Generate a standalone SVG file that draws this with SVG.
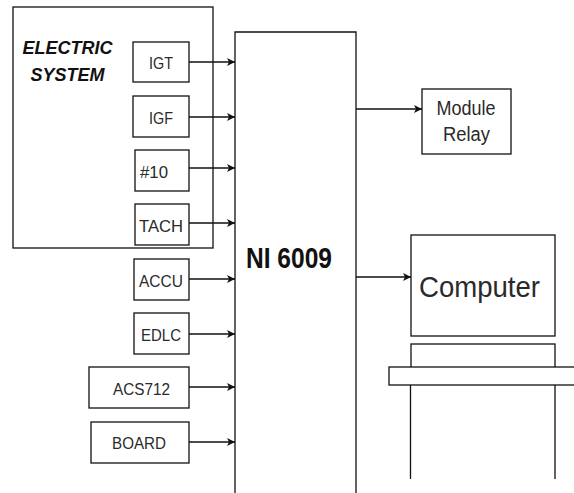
<svg xmlns="http://www.w3.org/2000/svg" width="574" height="493" viewBox="0 0 574 493">
<defs>
<style>
.box{fill:#fff;stroke:#111;stroke-width:1.3}
.ln{fill:none;stroke:#111;stroke-width:1.3}
.lbl{font-family:"Liberation Sans Narrow","Liberation Sans",Arial,sans-serif;font-size:17px;fill:#2a2a2a;text-anchor:middle}
.big{font-family:"Liberation Sans Narrow","Liberation Sans",Arial,sans-serif;font-size:29px;font-weight:bold;fill:#111;text-anchor:middle}
.title{font-family:"Liberation Sans",Arial,sans-serif;font-size:18px;font-weight:bold;font-style:italic;fill:#111;text-anchor:middle}
.conn{fill:none;stroke:#111;stroke-width:1.3;marker-end:url(#arr)}
</style>
<marker id="arr" viewBox="0 0 10 10" refX="10" refY="5" markerWidth="8" markerHeight="8" markerUnits="userSpaceOnUse" orient="auto">
<path d="M0,0 L10,5 L0,10 L2.5,5 Z" fill="#111"/>
</marker>
</defs>
<rect width="574" height="493" fill="#fff"/>

<g id="electric-system">
<rect class="box" x="13" y="7" width="200" height="241"/>
<text class="title" x="67.5" y="54">ELECTRIC</text>
<text class="title" x="67.5" y="81">SYSTEM</text>
</g>

<g id="igt"><rect class="box" x="133" y="42" width="56" height="40"/><text class="lbl" x="161" y="69" textLength="24" lengthAdjust="spacingAndGlyphs">IGT</text></g>
<g id="igf"><rect class="box" x="133" y="96" width="56" height="41"/><text class="lbl" x="161" y="124" textLength="24" lengthAdjust="spacingAndGlyphs">IGF</text></g>
<g id="n10"><rect class="box" x="135" y="150" width="54" height="41"/><text class="lbl" x="154" y="178" textLength="28" lengthAdjust="spacingAndGlyphs">#10</text></g>
<g id="tach"><rect class="box" x="135" y="204" width="54" height="41"/><text class="lbl" x="161" y="232" textLength="44" lengthAdjust="spacingAndGlyphs">TACH</text></g>
<g id="accu"><rect class="box" x="134" y="259" width="55" height="41"/><text class="lbl" x="161" y="287" textLength="44" lengthAdjust="spacingAndGlyphs">ACCU</text></g>
<g id="edlc"><rect class="box" x="134" y="313" width="55" height="41"/><text class="lbl" x="161" y="341" textLength="40" lengthAdjust="spacingAndGlyphs">EDLC</text></g>
<g id="acs712"><rect class="box" x="89" y="367" width="100" height="41"/><text class="lbl" x="141.5" y="395" textLength="57" lengthAdjust="spacingAndGlyphs">ACS712</text></g>
<g id="board"><rect class="box" x="91" y="422" width="98" height="41"/><text class="lbl" x="139" y="449" textLength="54" lengthAdjust="spacingAndGlyphs">BOARD</text></g>

<g id="ni6009">
<path class="ln" d="M235,493 V32 H356 V493"/>
<text class="big" x="289" y="268" textLength="86" lengthAdjust="spacingAndGlyphs">NI 6009</text>
</g>

<g id="module-relay">
<rect class="box" x="422" y="89" width="89" height="65"/>
<text class="lbl" x="466" y="115" style="font-size:20px" textLength="59" lengthAdjust="spacingAndGlyphs">Module</text>
<text class="lbl" x="466.5" y="141" style="font-size:20px" textLength="47" lengthAdjust="spacingAndGlyphs">Relay</text>
</g>

<g id="computer">
<rect class="box" x="411" y="235" width="144" height="101"/>
<text class="lbl" x="479.5" y="297" style="font-size:29px" textLength="121" lengthAdjust="spacingAndGlyphs">Computer</text>
<rect class="box" x="411" y="344" width="144" height="30"/>
<rect class="box" x="389" y="367" width="190" height="18"/>
<path class="ln" d="M410.5,385 V479 M555,385 V479"/>
</g>

<g id="connectors">
<path class="conn" d="M189,62 H235"/>
<path class="conn" d="M189,117 H235"/>
<path class="conn" d="M189,168 H235"/>
<path class="conn" d="M189,223 H235"/>
<path class="conn" d="M189,279 H235"/>
<path class="conn" d="M189,334 H235"/>
<path class="conn" d="M189,387 H235"/>
<path class="conn" d="M189,442 H235"/>
<path class="conn" d="M356,109 H422"/>
<path class="conn" d="M356,277 H411"/>
</g>
</svg>
